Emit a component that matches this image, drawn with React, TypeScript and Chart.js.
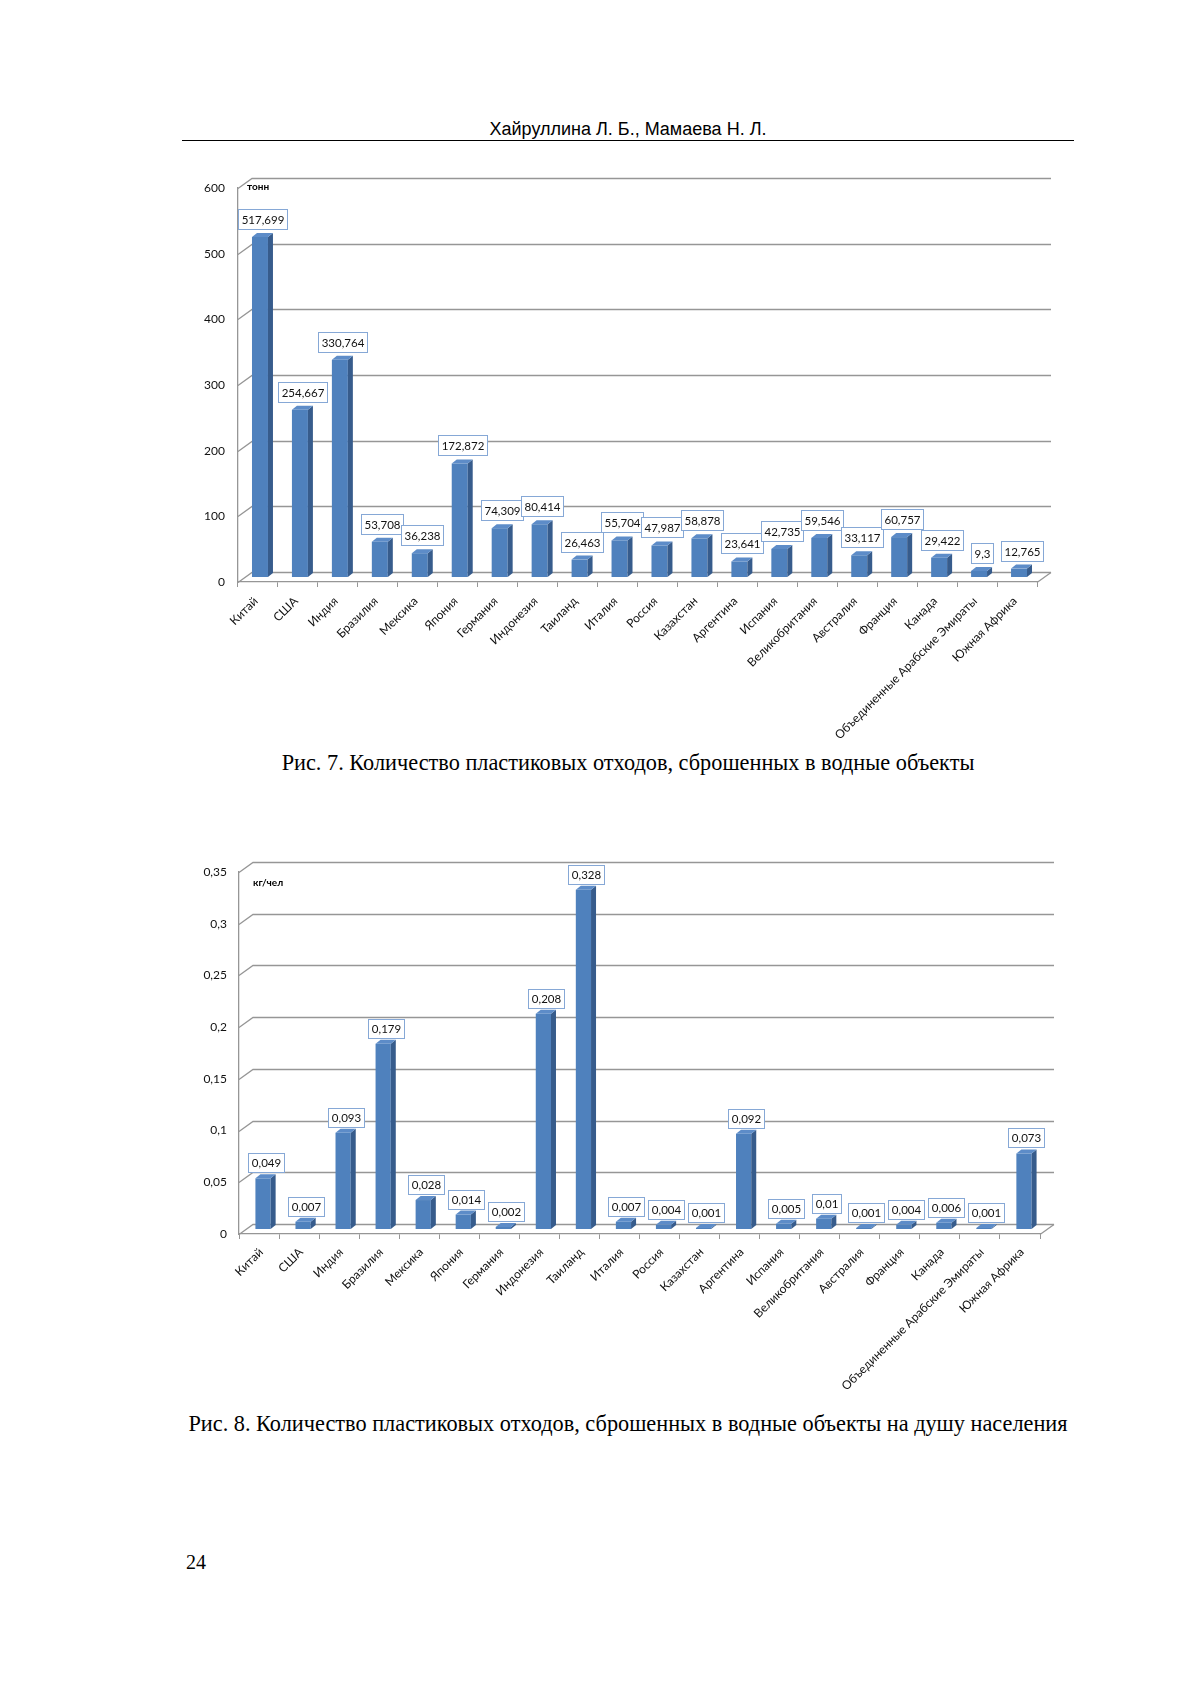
import React, { useEffect, useRef } from 'react';
import { Chart, registerables } from 'chart.js';

Chart.register(...registerables);

// ---------- data ----------
const categories = [
  'Китай', 'США', 'Индия', 'Бразилия', 'Мексика', 'Япония', 'Германия', 'Индонезия',
  'Таиланд', 'Италия', 'Россия', 'Казахстан', 'Аргентина', 'Испания', 'Великобритания',
  'Австралия', 'Франция', 'Канада', 'Объединенные Арабские Эмираты', 'Южная Африка',
];
const tonnesValues = [
  517.699, 254.667, 330.764, 53.708, 36.238, 172.872, 74.309, 80.414, 26.463, 55.704,
  47.987, 58.878, 23.641, 42.735, 59.546, 33.117, 60.757, 29.422, 9.3, 12.765,
];
const perCapitaValues = [
  0.049, 0.007, 0.093, 0.179, 0.028, 0.014, 0.002, 0.208, 0.328, 0.007,
  0.004, 0.001, 0.092, 0.005, 0.01, 0.001, 0.004, 0.006, 0.001, 0.073,
];
const tonnesTicks = [0, 100, 200, 300, 400, 500, 600];
const perCapitaTicks = [0, 0.05, 0.1, 0.15, 0.2, 0.25, 0.3, 0.35];
const tonnesUnit = 'тонн';
const perCapitaUnit = 'кг/чел';

const headerText = 'Хайруллина Л. Б., Мамаева Н. Л.';
const caption1 = 'Рис. 7. Количество пластиковых отходов, сброшенных в водные объекты';
const caption2 = 'Рис. 8. Количество пластиковых отходов, сброшенных в водные объекты на душу населения';
const pageNumber = '24';

// ---------- styles ----------
const FRONT = '#4F81BD';
const SIDE = '#375C8C';
const TOP = '#5D8CC8';
const GRID = '#969696';
const AXIS = '#969696';
const TEXT = '#111111';
const BOX_BORDER = '#86A8D6';
const WALL_DX = 14;
const WALL_DY = -10;
const BAR_DX = 5;
const BAR_DY = -4;

const fmt = (v: number) => String(+Number(v).toFixed(3)).replace('.', ',');

type Props = {
  left: number;
  top: number;
  width: number;
  height: number;
  values: number[];
  ticks: number[];
  unit: string;
  unitDx: number;
  unitDy: number;
  padTop: number;
  padRight: number;
  yAxisWidth: number;
  xAxisHeight: number;
  yLabelPad: number;
  xLabelOffset: number;
  xLabelPad: number;
  barPct: number;
  shiftX: number;
  shiftY: number;
  labelGap: number;
  boxH: number;
};

function make3D(p: Props) {
  return {
    id: 'pseudo3d',
    beforeDatasetsDraw(chart: any) {
      const { ctx, chartArea: a } = chart;
      const y = chart.scales.y;
      ctx.save();
      ctx.strokeStyle = GRID;
      ctx.lineWidth = 1.3;
      y.ticks.forEach((t: any) => {
        const py = Math.round(y.getPixelForValue(t.value)) + 0.5;
        ctx.beginPath();
        ctx.moveTo(a.left, py);
        ctx.lineTo(a.left + WALL_DX, py + WALL_DY);
        ctx.lineTo(a.right + WALL_DX, py + WALL_DY);
        ctx.stroke();
      });
      const by = Math.round(a.bottom) + 0.5;
      ctx.beginPath();
      ctx.moveTo(a.right, by);
      ctx.lineTo(a.right + WALL_DX, by + WALL_DY);
      ctx.stroke();
      ctx.fillStyle = '#000';
      ctx.font = 'bold 10px Lato';
      ctx.textBaseline = 'middle';
      ctx.textAlign = 'left';
      ctx.fillText(p.unit, a.left + p.unitDx, a.top + p.unitDy);
      ctx.restore();
      ctx.save();
      ctx.translate(p.shiftX, p.shiftY);
    },
    afterDatasetsDraw(chart: any) {
      const { ctx } = chart;
      const meta = chart.getDatasetMeta(0);
      meta.data.forEach((bar: any) => {
        const { x, y, base, width } = bar.getProps(['x', 'y', 'base', 'width'], true);
        const l = x - width / 2;
        const r = x + width / 2;
        ctx.fillStyle = SIDE;
        ctx.beginPath();
        ctx.moveTo(r, y);
        ctx.lineTo(r + BAR_DX, y + BAR_DY);
        ctx.lineTo(r + BAR_DX, base + BAR_DY);
        ctx.lineTo(r, base);
        ctx.closePath();
        ctx.fill();
        ctx.fillStyle = TOP;
        ctx.beginPath();
        ctx.moveTo(l, y);
        ctx.lineTo(l + BAR_DX, y + BAR_DY);
        ctx.lineTo(r + BAR_DX, y + BAR_DY);
        ctx.lineTo(r, y);
        ctx.closePath();
        ctx.fill();
      });
      ctx.restore();

      // data labels
      ctx.save();
      ctx.font = '11.5px Lato';
      const items = meta.data.map((bar: any, i: number) => {
        const { x, y } = bar.getProps(['x', 'y'], true);
        const text = fmt(p.values[i]);
        const w = Math.ceil(ctx.measureText(text).width) + 6;
        const cx = x + p.shiftX + BAR_DX / 2;
        const bottom = y + p.shiftY + BAR_DY - p.labelGap;
        return { text, w, h: p.boxH, cx, top: bottom - p.boxH, value: p.values[i] };
      });
      const order = items.slice().sort((m: any, n: any) => m.value - n.value);
      const placed: any[] = [];
      order.forEach((it: any) => {
        let moved = true;
        let guard = 0;
        while (moved && guard < 30) {
          moved = false;
          guard++;
          for (const q of placed) {
            const ho = Math.min(it.cx + it.w / 2, q.cx + q.w / 2) - Math.max(it.cx - it.w / 2, q.cx - q.w / 2);
            const vo = Math.min(it.top + it.h, q.top + q.h) - Math.max(it.top, q.top);
            if (ho > 3 && vo > 0) {
              it.top = q.top - it.h - 1;
              moved = true;
            }
          }
        }
        placed.push(it);
      });
      items.forEach((it: any) => {
        const bx = Math.round(it.cx - it.w / 2) + 0.5;
        const bt = Math.round(it.top) + 0.5;
        ctx.fillStyle = '#ffffff';
        ctx.fillRect(bx, bt, it.w, it.h);
        ctx.strokeStyle = BOX_BORDER;
        ctx.lineWidth = 1;
        ctx.strokeRect(bx, bt, it.w, it.h);
        ctx.fillStyle = TEXT;
        ctx.textAlign = 'center';
        ctx.textBaseline = 'middle';
        ctx.fillText(it.text, bx + it.w / 2, bt + it.h / 2 + 0.5);
      });
      ctx.restore();
    },
  };
}

function BarChart3D(p: Props) {
  const ref = useRef<HTMLCanvasElement>(null);
  useEffect(() => {
    const canvas = ref.current;
    if (!canvas) return;
    const chart = new Chart(canvas, {
      type: 'bar',
      data: {
        labels: categories,
        datasets: [
          {
            data: p.values,
            backgroundColor: FRONT,
            borderWidth: 0,
            barPercentage: p.barPct,
            categoryPercentage: 0.5,
          },
        ],
      },
      options: {
        responsive: false,
        maintainAspectRatio: false,
        animation: false,
        devicePixelRatio: 1,
        events: [],
        layout: { padding: { top: p.padTop, right: p.padRight, left: 0, bottom: 0 } },
        plugins: {
          legend: { display: false },
          tooltip: { enabled: false },
          title: { display: false },
        },
        scales: {
          x: {
            grid: {
              display: true,
              drawOnChartArea: false,
              drawTicks: true,
              tickLength: 5,
              color: AXIS,
              offset: true,
            },
            border: { display: true, color: AXIS, width: 1.3 },
            ticks: {
              autoSkip: false,
              maxRotation: 45,
              minRotation: 45,
              padding: p.xLabelPad,
              labelOffset: p.xLabelOffset,
              color: TEXT,
              font: { family: 'Lato', size: 12 },
            },
            afterFit: (s: any) => {
              s.height = p.xAxisHeight;
            },
          },
          y: {
            min: p.ticks[0],
            max: p.ticks[p.ticks.length - 1],
            afterBuildTicks: (s: any) => {
              s.ticks = p.ticks.map((v) => ({ value: v }));
            },
            grid: { display: false, drawTicks: false, tickLength: 0 },
            border: { display: true, color: AXIS, width: 1.3 },
            ticks: {
              padding: p.yLabelPad,
              color: TEXT,
              font: { family: 'Lato', size: 12 },
              callback: (v: any) => fmt(Number(v)),
            },
            afterFit: (s: any) => {
              s.width = p.yAxisWidth;
            },
          },
        },
      },
      plugins: [make3D(p)],
    } as any);
    return () => chart.destroy();
  }, []);
  return (
    <canvas
      ref={ref}
      width={p.width}
      height={p.height}
      style={{ position: 'absolute', left: p.left, top: p.top, width: p.width, height: p.height }}
    />
  );
}

export default function App() {
  const serif = "'Liberation Serif', 'Times New Roman', serif";
  return (
    <div
      style={{
        position: 'absolute',
        left: 0,
        top: 0,
        width: 1200,
        height: 1697,
        background: '#ffffff',
        overflow: 'hidden',
      }}
    >
      <div
        style={{
          position: 'absolute',
          left: 182,
          top: 120,
          width: 892,
          textAlign: 'center',
          fontFamily: "'Liberation Sans', Arial, sans-serif",
          fontSize: 18,
          lineHeight: '18px',
          color: '#000',
        }}
      >
        {headerText}
      </div>
      <div
        style={{
          position: 'absolute',
          left: 182,
          top: 140,
          width: 892,
          height: 1,
          background: '#000',
        }}
      />

      <BarChart3D
        left={180}
        top={160}
        width={900}
        height={590}
        values={tonnesValues}
        ticks={tonnesTicks}
        unit={tonnesUnit}
        unitDx={9}
        unitDy={-1}
        padTop={28}
        padRight={43}
        yAxisWidth={58}
        xAxisHeight={168}
        yLabelPad={13}
        xLabelOffset={-2}
        xLabelPad={7}
        barPct={0.8}
        shiftX={2}
        shiftY={-5}
        labelGap={4}
        boxH={20}
      />

      <div
        style={{
          position: 'absolute',
          left: 132,
          top: 752,
          width: 992,
          textAlign: 'center',
          fontFamily: serif,
          fontSize: 22.3,
          lineHeight: '22px',
          color: '#000',
          whiteSpace: 'nowrap',
        }}
      >
        {caption1}
      </div>

      <BarChart3D
        left={180}
        top={830}
        width={900}
        height={560}
        values={perCapitaValues}
        ticks={perCapitaTicks}
        unit={perCapitaUnit}
        unitDx={14}
        unitDy={11}
        padTop={42}
        padRight={40}
        yAxisWidth={59}
        xAxisHeight={156}
        yLabelPad={12}
        xLabelOffset={2}
        xLabelPad={6}
        barPct={0.76}
        shiftX={4}
        shiftY={-5}
        labelGap={2}
        boxH={19}
      />

      <div
        style={{
          position: 'absolute',
          left: 132,
          top: 1413,
          width: 992,
          textAlign: 'center',
          fontFamily: serif,
          fontSize: 22.3,
          lineHeight: '22px',
          color: '#000',
          whiteSpace: 'nowrap',
        }}
      >
        {caption2}
      </div>

      <div
        style={{
          position: 'absolute',
          left: 186,
          top: 1552,
          fontFamily: serif,
          fontSize: 20,
          lineHeight: '20px',
          color: '#000',
        }}
      >
        {pageNumber}
      </div>
    </div>
  );
}
